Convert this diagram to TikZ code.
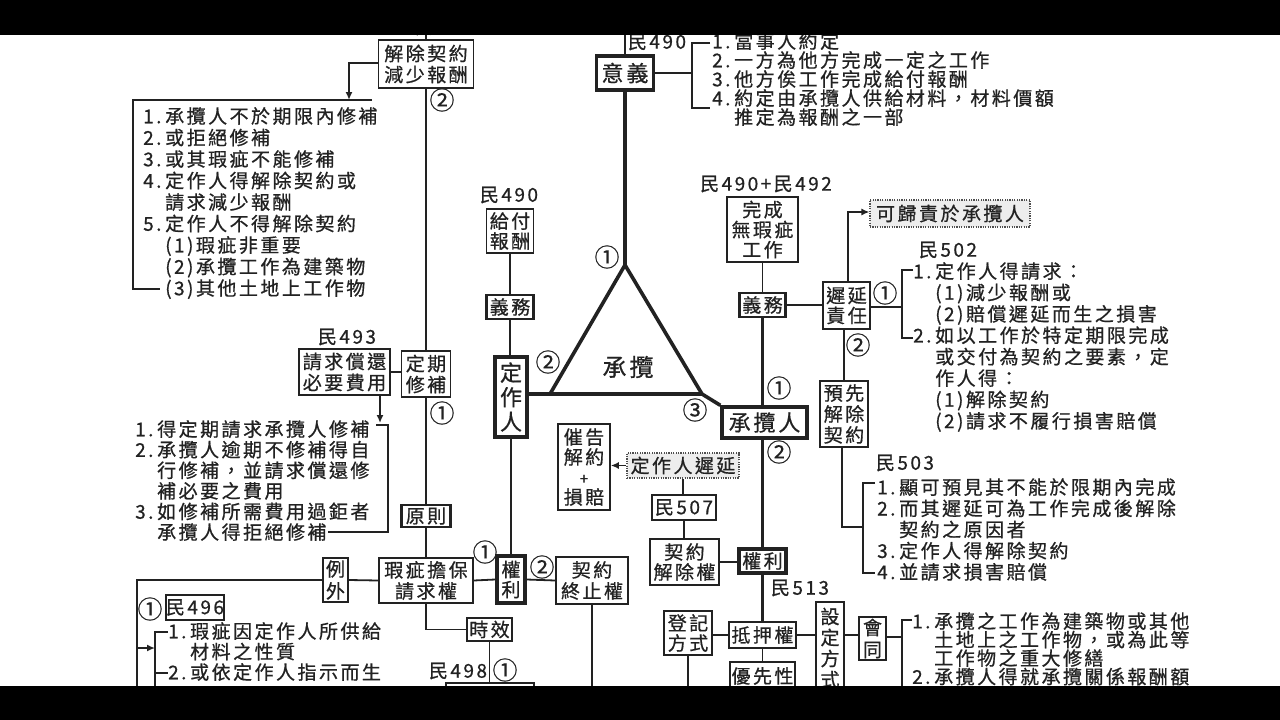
\documentclass[tikz,border=0pt]{standalone}
\usepackage{fontspec}
\usetikzlibrary{arrows.meta}
\newfontfamily\cjk[LetterSpace=13,FakeBold=0.7]{Noto Sans CJK TC}
\newfontfamily\cjkn[FakeBold=0.4]{Noto Sans CJK TC}
\newcommand\zf[2]{\cjk\fontsize{#1}{#2}\selectfont}
\newcommand\bnum[1]{\makebox[22pt][l]{#1}}
\newcommand\bind{\hspace*{22pt}}
\definecolor{ink}{HTML}{222222}
\definecolor{shade}{HTML}{EDEDED}
\begin{document}
\begin{tikzpicture}[x=1pt,y=-1pt,
  every node/.style={text=ink},
  tb/.style={draw=ink, line width=1.6pt, fill=white, inner sep=0pt, align=center, font={\zf{19}{21}}},
  mb/.style={tb, line width=2.4pt},
  kb/.style={tb, line width=3.4pt},
  db/.style={tb, draw=ink!80, line width=1.1pt, dash pattern=on 1.2pt off 1.2pt, fill=shade},
  lbl/.style={inner sep=0pt, font={\zf{19}{21}}},
  blk/.style={inner sep=0pt, anchor=north west, align=left},
  cnum/.style={inner sep=0pt, font={\cjkn\fontsize{25}{25}\selectfont}},
  ln/.style={draw=ink, line width=1.8pt},
  tk/.style={draw=ink, line width=2.6pt},
  hv/.style={draw=ink, line width=3.6pt, line join=miter},
  arr/.style={ln, -{Latex[length=8pt,width=7pt]}},
]
\fill[white] (0,0) rectangle (1280,720);
\useasboundingbox (0,0) rectangle (1280,720);

% ---------- coordinates ----------
\coordinate (topL) at (426,30);
\coordinate (topM) at (625,30);
\coordinate (a1) at (349,63);
\coordinate (a1e) at (349,100);
\coordinate (b1a) at (372,100);
\coordinate (b1b) at (133,100);
\coordinate (b1c) at (133,289);
\coordinate (b1d) at (160,289);
\coordinate (a2) at (380,423);
\coordinate (b2a) at (376,425);
\coordinate (b2b) at (388,425);
\coordinate (b2c) at (388,532);
\coordinate (b2d) at (328,532);
\coordinate (v1) at (137,582);
\coordinate (v1b) at (137,700);
\coordinate (a3) at (155,648);
\coordinate (b7a) at (168,632);
\coordinate (b7b) at (155,632);
\coordinate (b7c) at (155,700);
\coordinate (b7d) at (155,673);
\coordinate (b7e) at (168,673);
\coordinate (ap) at (625,265);
\coordinate (bl) at (550,394);
\coordinate (br) at (702,394);
\coordinate (b3m) at (692,73);
\coordinate (b3a) at (710,43);
\coordinate (b3b) at (692,43);
\coordinate (b3c) at (692,108);
\coordinate (b3d) at (710,108);
\coordinate (u1) at (848,212);
\coordinate (b4m) at (902,307);
\coordinate (b4a) at (913,270);
\coordinate (b4b) at (902,270);
\coordinate (b4c) at (902,338);
\coordinate (b4d) at (913,338);
\coordinate (y1) at (842,447);
\coordinate (y2) at (842,527);
\coordinate (b5m) at (863,527);
\coordinate (b5a) at (875,483);
\coordinate (b5b) at (863,483);
\coordinate (b5c) at (863,573);
\coordinate (b5d) at (875,573);
\coordinate (b6m) at (902,637);
\coordinate (b6a) at (912,620);
\coordinate (b6b) at (902,620);
\coordinate (b6c) at (902,700);

% ---------- top left ----------
\node[lbl] (l494) at (444,27) {民494};
\node[tb, minimum width=95, minimum height=48] (jc) at (426,64) {解除契約\\減少報酬};
\node[cnum] (c1) at (442,100) {②};
\node[blk, font={\zf{19}{21.5}}] (t1) at (143,107) {\bnum{1.}承攬人不於期限內修補\\\bnum{2.}或拒絕修補\\\bnum{3.}或其瑕疵不能修補\\\bnum{4.}定作人得解除契約或\\\bind 請求減少報酬\\\bnum{5.}定作人不得解除契約\\\bind(1)瑕疵非重要\\\bind(2)承攬工作為建築物\\\bind(3)其他土地上工作物};

% ---------- left middle ----------
\node[lbl] (l493) at (347,337) {民493};
\node[tb, minimum width=91, minimum height=46] (qh) at (344.5,372) {請求償還\\必要費用};
\node[tb, minimum width=49, minimum height=46] (dq) at (426,374) {定期\\修補};
\node[cnum] (c2) at (442,413) {①};
\node[blk, font={\zf{19}{20.6}}] (t2) at (135,420) {\bnum{1.}得定期請求承攬人修補\\\bnum{2.}承攬人逾期不修補得自\\\bind 行修補，並請求償還修\\\bind 補必要之費用\\\bnum{3.}如修補所需費用過鉅者\\\bind 承攬人得拒絕修補};
\node[mb, minimum width=49, minimum height=22] (yz) at (426,516) {原則};

% ---------- bottom left ----------
\node[tb, minimum width=94, minimum height=45] (xc) at (426,580.5) {瑕疵擔保\\請求權};
\node[tb, line width=2pt, minimum width=25, minimum height=44, font={\zf{19}{22}}] (lw) at (335.5,580) {例\\外};
\node[kb, minimum width=28, minimum height=47, font={\zf{19}{20}}] (qL) at (511,579.5) {權\\利};
\node[cnum] (c3) at (485,552) {①};
\node[cnum] (c4) at (542,567) {②};
\node[tb, minimum width=72, minimum height=47] (zz) at (592,580.5) {契約\\終止權};
\node[mb, minimum width=45, minimum height=23] (sx) at (489.5,629.5) {時效};
\node[lbl] (l498) at (458,671) {民498};
\node[cnum] (c5) at (505,670) {①};
\node[tb, minimum width=88, minimum height=40] (hid) at (490,703) {};
\node[cnum] (c6) at (150,609) {①};
\node[tb, minimum width=56, minimum height=25] (m496) at (195,607.5) {民496};
\node[blk, font={\zf{19}{20.5}}] (t7) at (168,622) {\bnum{1.}瑕疵因定作人所供給\\\bind 材料之性質\\\bnum{2.}或依定作人指示而生};

% ---------- center ----------
\node[lbl] (l490a) at (509,195) {民490};
\node[tb, minimum width=47, minimum height=44, font={\zf{19}{20}}] (gf) at (510,231) {給付\\報酬};
\node[mb, minimum width=47, minimum height=24] (yw1) at (510,307) {義務};
\node[kb, minimum width=32, minimum height=80, font={\zf{22}{24.5}}] (dzr) at (511,397) {定\\作\\人};
\node[inner sep=0pt, font={\zf{24}{25}}] (cl) at (628,367) {承攬};
\node[cnum] (c7) at (607,257) {①};
\node[cnum] (c8) at (548,362) {②};
\node[cnum] (c9) at (695,410) {③};

% ---------- top center ----------
\node[lbl] (l490b) at (657,42) {民490};
\node[kb, minimum width=57, minimum height=34, font={\zf{22}{24}}] (yy) at (625,73) {意義};
\node[blk, font={\zf{19}{19}}] (t3) at (712,32) {\bnum{1.}當事人約定\\\bnum{2.}一方為他方完成一定之工作\\\bnum{3.}他方俟工作完成給付報酬\\\bnum{4.}約定由承攬人供給材料，材料價額\\\bind 推定為報酬之一部};

% ---------- right ----------
\node[lbl] (l490c) at (766,184) {民490+民492};
\node[tb, minimum width=71, minimum height=65, font={\zf{19}{20}}] (wc) at (762.5,229.5) {完成\\無瑕疵\\工作};
\node[mb, minimum width=46, minimum height=24] (yw2) at (762.5,305) {義務};
\node[tb, minimum width=47, minimum height=47, font={\zf{19}{20}}] (cy) at (846.5,305.5) {遲延\\責任};
\node[db, minimum width=160, minimum height=27] (kg) at (950,213.5) {可歸責於承攬人};
\node[lbl] (l502) at (948,250) {民502};
\node[cnum] (c10) at (885,293) {①};
\node[blk, font={\zf{19}{21.4}}] (t4) at (913,262) {\bnum{1.}定作人得請求：\\\bind(1)減少報酬或\\\bind(2)賠償遲延而生之損害\\\bnum{2.}如以工作於特定期限完成\\\bind 或交付為契約之要素，定\\\bind 作人得：\\\bind(1)解除契約\\\bind(2)請求不履行損害賠償};
\node[cnum] (c11) at (858,345) {②};
\node[tb, minimum width=48, minimum height=66, font={\zf{19}{21}}] (yx) at (844,414) {預先\\解除\\契約};
\node[kb, minimum width=85, minimum height=31, font={\zf{22}{24}}] (cL) at (764.5,422.5) {承攬人};
\node[cnum] (c12) at (779,388) {①};
\node[cnum] (c13) at (779,452) {②};
\node[lbl] (l503) at (905,463) {民503};
\node[blk, font={\zf{19}{21.2}}] (t5) at (877,478) {\bnum{1.}顯可預見其不能於限期內完成\\\bnum{2.}而其遲延可為工作完成後解除\\\bind 契約之原因者\\\bnum{3.}定作人得解除契約\\\bnum{4.}並請求損害賠償};

% ---------- bottom middle ----------
\node[tb, minimum width=52, minimum height=86, font={\zf{19}{20}}] (cg) at (584,467) {催告\\解約\\{\zf{15}{20}+}\\損賠};
\node[db, minimum width=112, minimum height=25] (dy) at (683,465.5) {定作人遲延};
\node[mb, minimum width=64, minimum height=25] (m507) at (684,507.5) {民507};
\node[tb, minimum width=69, minimum height=46, font={\zf{19}{20}}] (jcq) at (684.5,562) {契約\\解除權};
\node[kb, minimum width=47, minimum height=24] (qL2) at (762.5,561) {權利};
\node[lbl] (l513) at (800,588) {民513};
\node[mb, minimum width=67, minimum height=26] (dyq) at (762.5,635) {抵押權};
\node[mb, minimum width=65, minimum height=28] (yxx) at (762.5,676) {優先性};
\node[mb, minimum width=48, minimum height=44, font={\zf{19}{20}}] (djfs) at (688,633) {登記\\方式};
\node[mb, minimum width=28, minimum height=92, font={\zf{19}{21}}] (sdfs) at (830,648) {設\\定\\方\\式};
\node[mb, minimum width=27, minimum height=43, font={\zf{19}{22}}] (ht) at (872.5,638.5) {會\\同};
\node[blk, font={\zf{19}{18.5}}] (t6) at (912,612) {\bnum{1.}承攬之工作為建築物或其他\\\bind 土地上之工作物，或為此等\\\bind 工作物之重大修繕\\\bnum{2.}承攬人得就承攬關係報酬額};

% ---------- connectors ----------
\draw[ln] (topL) -- (jc.north);
\draw[ln] (jc.south) -- (dq.north);
\draw[ln] (dq.south) -- (yz.north);
\draw[ln] (yz.south) -- (xc.north);
\draw[arr] (jc.west |- a1) -- (a1) -- (a1e);
\draw[ln] (b1a) -- (b1b) -- (b1c) -- (b1d);
\draw[ln] (qh.east) -- (qh.east -| dq.west);
\draw[arr] (qh.south -| a2) -- (a2);
\draw[ln] (b2a) -- (b2b) -- (b2c) -- (b2d);

\draw[ln] (lw.east) -- (xc.west);
\draw[ln] (xc.east) -- (qL.west);
\draw[ln] (qL.east) -- (zz.west);
\draw[ln] (lw.west) -- (lw.west -| v1) -- (v1b);
\draw[ln] (c6.west -| v1) -- (c6.west);
\draw[arr] (a3 -| v1) -- (a3);
\draw[ln] (b7a) -- (b7b) -- (b7c);
\draw[ln] (b7d) -- (b7e);
\draw[ln] (xc.south) -- (xc.south |- sx.west) -- (sx.west);
\draw[ln] (sx.south) -- (sx.south |- hid.north);
\draw[ln] (zz.south) -- (zz.south |- v1b);
\draw[tk] (dzr.south) -- (qL.north);

\draw[ln] (gf.south) -- (yw1.north);
\draw[ln] (yw1.south) -- (yw1.south |- dzr.north);
\draw[ln] (topM) -- (yy.north);
\draw[hv] (yy.south) -- (ap);
\draw[hv] (dzr.east |- br) -- (bl) -- (ap) -- (br) -- (cL.north west);
\draw[hv] (bl) -- (br);
\draw[ln] (yy.east) -- (b3m);
\draw[ln] (b3a) -- (b3b) -- (b3c) -- (b3d);

\draw[ln] (wc.south) -- (yw2.north);
\draw[tk] (yw2.south) -- (yw2.south |- cL.north);
\draw[tk] (yw2.south |- cL.south) -- (qL2.north);
\draw[tk] (qL2.south) -- (dyq.north);
\draw[ln] (dyq.south) -- (yxx.north);
\draw[ln] (yw2.east) -- (yw2.east -| cy.west);
\draw[arr] (cy.north -| u1) -- (u1) -- (u1 -| kg.west);
\draw[ln] (cy.east |- b4m) -- (b4m);
\draw[ln] (b4a) -- (b4b) -- (b4c) -- (b4d);
\draw[ln] (yx.north |- cy.south) -- (yx.north);
\draw[ln] (y1) -- (y2) -- (b5m);
\draw[ln] (b5a) -- (b5b) -- (b5c) -- (b5d);

\draw[arr] (dy.west) -- (dy.west -| cg.east);
\draw[ln] (dy.south) -- (dy.south |- m507.north);
\draw[ln] (m507.south) -- (m507.south |- jcq.north);
\draw[ln] (jcq.east) -- (jcq.east -| qL2.west);
\draw[ln] (djfs.east |- dyq.west) -- (dyq.west);
\draw[ln] (djfs.south) -- (djfs.south |- v1b);
\draw[ln] (dyq.east) -- (dyq.east -| sdfs.west);
\draw[ln] (sdfs.east |- dyq.east) -- (ht.west |- dyq.east);
\draw[ln] (ht.east |- b6m) -- (b6m);
\draw[ln] (b6a) -- (b6b) -- (b6c);

% ---------- black bars ----------
\fill[black] (0,0) rectangle (1280,35);
\fill[black] (0,686) rectangle (1280,720);
\end{tikzpicture}
\end{document}
